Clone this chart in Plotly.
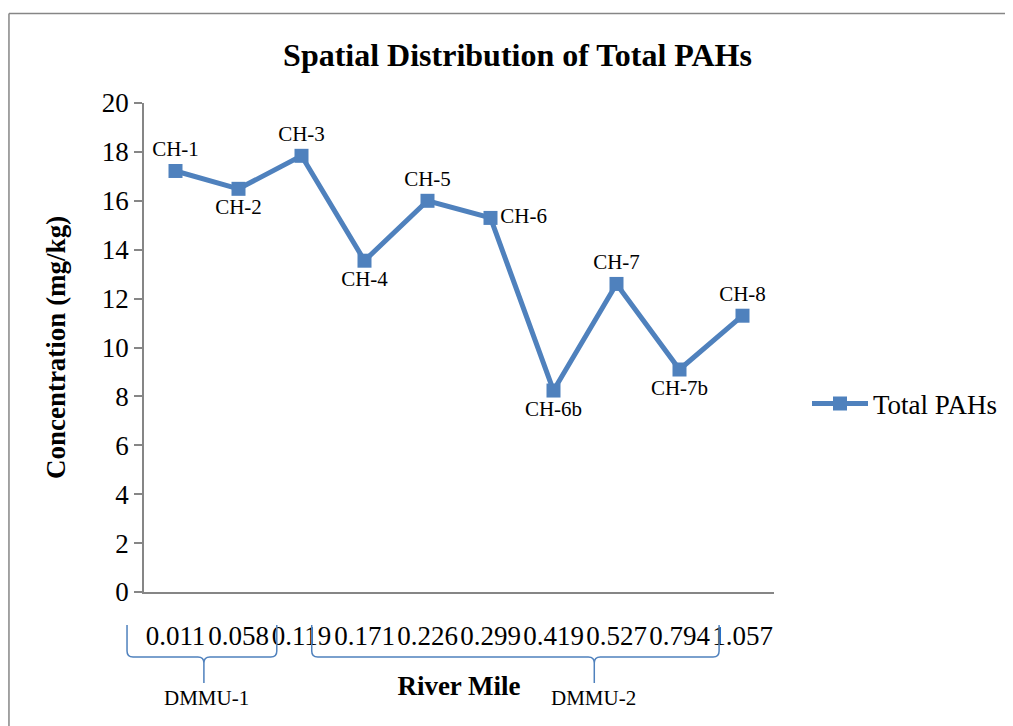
import plotly.graph_objects as go

stations = ["CH-1", "CH-2", "CH-3", "CH-4", "CH-5", "CH-6", "CH-6b", "CH-7", "CH-7b", "CH-8"]
river_mile = ["0.011", "0.058", "0.119", "0.171", "0.226", "0.299", "0.419", "0.527", "0.794", "1.057"]
total_pahs = [17.22, 16.49, 17.84, 13.55, 16.0, 15.3, 8.24, 12.6, 9.1, 11.3]
label_pos = ["top center", "bottom center", "top center", "bottom center", "top center",
             "middle right", "bottom center", "top center", "bottom center", "top center"]

OFF = 8  # page body margin
W, H = 1013 - OFF, 726 - OFF
# plot area in screen pixels
SL, SR, ST, SB = 144, 775, 103, 592
L, R, T, B = SL - OFF, SR - OFF, ST - OFF, SB - OFF
BLUE = "#4F81BD"
FONT = "Liberation Serif"

def px(x):  # screen x -> paper
    return (x - SL) / (SR - SL)

def py(y):  # screen y -> paper
    return (SB - y) / (SB - ST)

def brace(x0, x1, xc, ytop, yh, ytip, r=6):
    pts = [
        f"M {px(x0)},{py(ytop)}",
        f"L {px(x0)},{py(yh - r)}",
        f"Q {px(x0)},{py(yh)} {px(x0 + r)},{py(yh)}",
        f"L {px(xc - r)},{py(yh)}",
        f"Q {px(xc)},{py(yh)} {px(xc)},{py(yh + r)}",
        f"L {px(xc)},{py(ytip)}",
        f"M {px(xc)},{py(yh + r)}",
        f"Q {px(xc)},{py(yh)} {px(xc + r)},{py(yh)}",
        f"L {px(x1 - r)},{py(yh)}",
        f"Q {px(x1)},{py(yh)} {px(x1)},{py(yh - r)}",
        f"L {px(x1)},{py(ytop)}",
    ]
    return dict(type="path", xref="paper", yref="paper", path=" ".join(pts),
                line=dict(color=BLUE, width=1.5))

fig = go.Figure()
fig.add_trace(go.Scatter(
    x=river_mile, y=total_pahs, mode="lines+markers+text",
    name="Total PAHs",
    text=stations, textposition=label_pos,
    textfont=dict(family=FONT, size=21, color="black"),
    line=dict(color=BLUE, width=5),
    marker=dict(symbol="square", size=14, color=BLUE),
    cliponaxis=False,
))

fig.update_layout(
    width=W, height=H,
    margin=dict(l=L, r=W - R, t=T, b=H - B),
    paper_bgcolor="white", plot_bgcolor="white",
    font=dict(family=FONT, color="black"),
    title=dict(text="<b>Spatial Distribution of Total PAHs</b>",
               font=dict(family=FONT, size=32, color="black"),
               x=(517.5 - OFF) / W, xanchor="center", y=1 - (55 - OFF) / H, yanchor="middle"),
    showlegend=True,
    legend=dict(x=px(807), y=py(404), xanchor="left", yanchor="middle",
                font=dict(family=FONT, size=27, color="black"),
                bgcolor="rgba(0,0,0,0)", itemwidth=56),
    xaxis=dict(type="category", range=[-0.5, 9.5], tickangle=0, showgrid=False, showline=True,
               linecolor="#868686", linewidth=1.5, ticks="", ticklabelstandoff=19,
               tickfont=dict(family=FONT, size=27, color="black"),
               title=dict(text="<b>River Mile</b>", font=dict(family=FONT, size=27, color="black"),
                          standoff=26),
               zeroline=False),
    yaxis=dict(range=[0, 20], dtick=2, showgrid=False, showline=True,
               linecolor="#868686", linewidth=1.5, ticks="outside", ticklen=8,
               tickcolor="#868686", tickwidth=1.5,
               tickfont=dict(family=FONT, size=27, color="black"),
               title=dict(text="<b>Concentration (mg/kg)</b>",
                          font=dict(family=FONT, size=27, color="black"), standoff=28),
               zeroline=False),
    shapes=[
        dict(type="line", xref="paper", yref="paper",
             x0=px(8.75), x1=px(8.75), y0=py(13.5), y1=py(760),
             line=dict(color="#868686", width=1.5), layer="below"),
        dict(type="line", xref="paper", yref="paper",
             x0=px(8.75), x1=px(1040), y0=py(13.5), y1=py(13.5),
             line=dict(color="#868686", width=1.5), layer="below"),
        brace(127, 277, 204, 625, 657, 683),
        brace(312, 720, 595, 625, 657, 683),
    ],
    annotations=[
        dict(text="DMMU-1", xref="paper", yref="paper", x=px(207), y=py(698),
             showarrow=False, font=dict(family=FONT, size=21, color="black"),
             xanchor="center", yanchor="middle"),
        dict(text="DMMU-2", xref="paper", yref="paper", x=px(594), y=py(698),
             showarrow=False, font=dict(family=FONT, size=21, color="black"),
             xanchor="center", yanchor="middle"),
    ],
)

fig.write_html("out.html")
